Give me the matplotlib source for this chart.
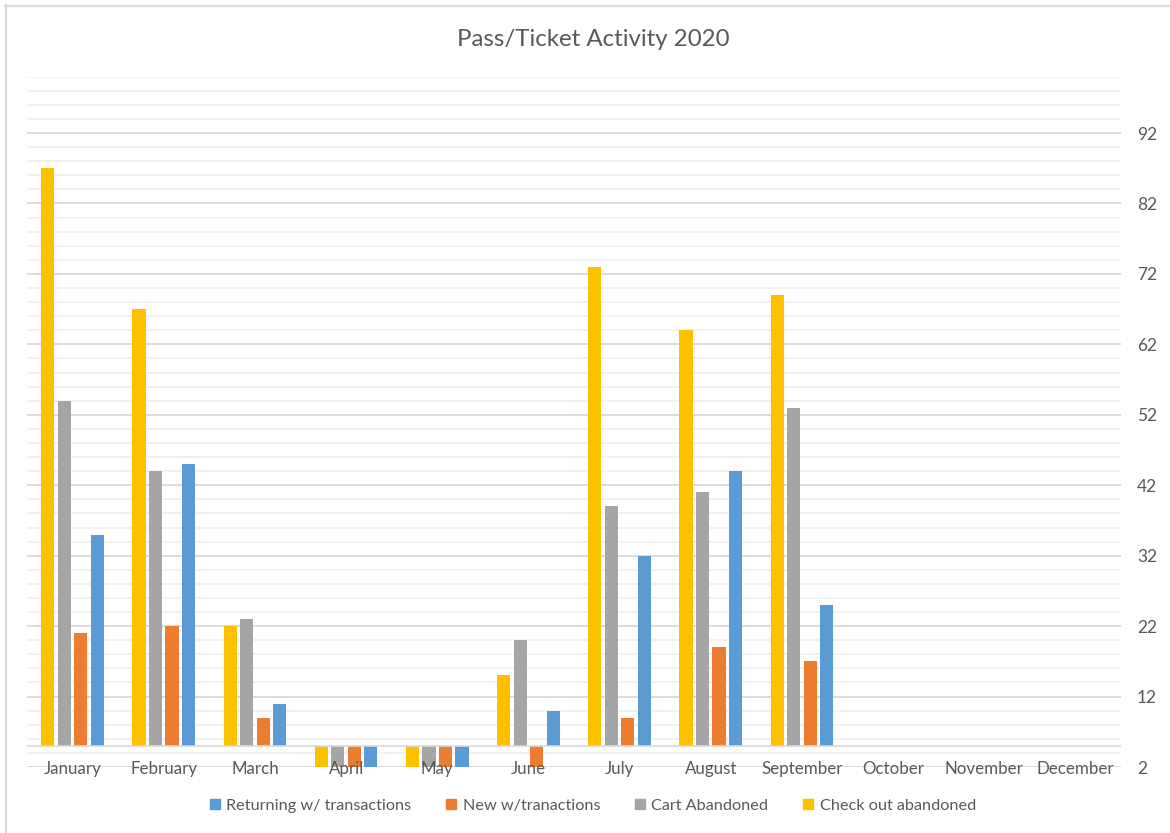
import matplotlib.pyplot as plt
from matplotlib.lines import Line2D
from matplotlib.patches import Patch
import numpy as np

plt.rcParams['font.family'] = ['Lato', 'DejaVu Sans']

months = ['January', 'February', 'March', 'April', 'May', 'June', 'July',
          'August', 'September', 'October', 'November', 'December']

# monthly counts, Oct-Dec not reported yet
checkout_abandoned = [87, 67, 22, 0, 0, 15, 73, 64, 69, np.nan, np.nan, np.nan]
cart_abandoned     = [54, 44, 23, 0, 0, 20, 39, 41, 53, np.nan, np.nan, np.nan]
new_trans          = [21, 22, 9, 0, 0, 0, 9, 19, 17, np.nan, np.nan, np.nan]
returning_trans    = [35, 45, 11, 0, 0, 10, 32, 44, 25, np.nan, np.nan, np.nan]

yticks = [2, 12, 22, 32, 42, 52, 62, 72, 82, 92]

TEXT = '#595959'
BASE = 5  # horizontal axis crosses here

fig = plt.figure(figsize=(11.7, 8.33), dpi=100)
ax = fig.add_axes([27/1170, 1-767/833, (1121-27)/1170, (767-76.7)/833])

x = np.arange(len(months))
w = 0.143
step = 0.181
series = [
    (checkout_abandoned, '#FFC000', 'Check out abandoned'),
    (cart_abandoned, '#A5A5A5', 'Cart Abandoned'),
    (new_trans, '#ED7D31', 'New w/tranactions'),
    (returning_trans, '#5B9BD5', 'Returning w/ transactions'),
]
for i, (vals, col, lab) in enumerate(series):
    v = np.array(vals, dtype=float)
    ax.bar(x + (i - 1.5) * step, v - BASE, bottom=BASE, width=w,
           color=col, zorder=3, label=lab)

ax.set_xlim(-0.5, 11.5)
ax.set_ylim(2, 100)

# gridlines: minor every 2, major every 10
for yv in np.arange(2, 101, 2):
    ax.axhline(yv, color='#f0f0f0', lw=1.2, zorder=1)
for yv in yticks:
    ax.axhline(yv, color='#d9d9d9', lw=1.2, zorder=2)
ax.axhline(BASE, color='#d9d9d9', lw=1.2, zorder=4)

ax.yaxis.tick_right()
ax.set_yticks(yticks)
ax.tick_params(axis='y', length=0, pad=11.5, labelsize=12.5, labelcolor=TEXT)
ax.set_xticks([])
for s in ax.spines.values():
    s.set_visible(False)

for i, m in enumerate(months):
    ax.annotate(m, (i, 2), xytext=(0, -1.5), textcoords='offset points',
                ha='center', va='center', fontsize=12.2, color=TEXT,
                zorder=5, annotation_clip=False)

fig.text(593/1170, 1-39.5/833, 'Pass/Ticket Activity 2020', ha='center',
         va='center', fontsize=17.3, color=TEXT)

handles = [Patch(color=c, label=l) for _, c, l in series[::-1]]
fig.legend(handles=handles, loc='center', bbox_to_anchor=(593/1170, 1-806/833),
           ncol=4, frameon=False, fontsize=11.7, labelcolor=TEXT,
           handlelength=0.6, handleheight=0.6, handletextpad=0.4,
           columnspacing=2.15)

# chart border
fig.add_artist(Line2D([6/1170, 6/1170], [0, 1-5/833], color='#d9d9d9', lw=1.6))
fig.add_artist(Line2D([5/1170, 1], [1-6/833, 1-6/833], color='#d9d9d9', lw=1.6))

fig.savefig('out.png', dpi=100)
